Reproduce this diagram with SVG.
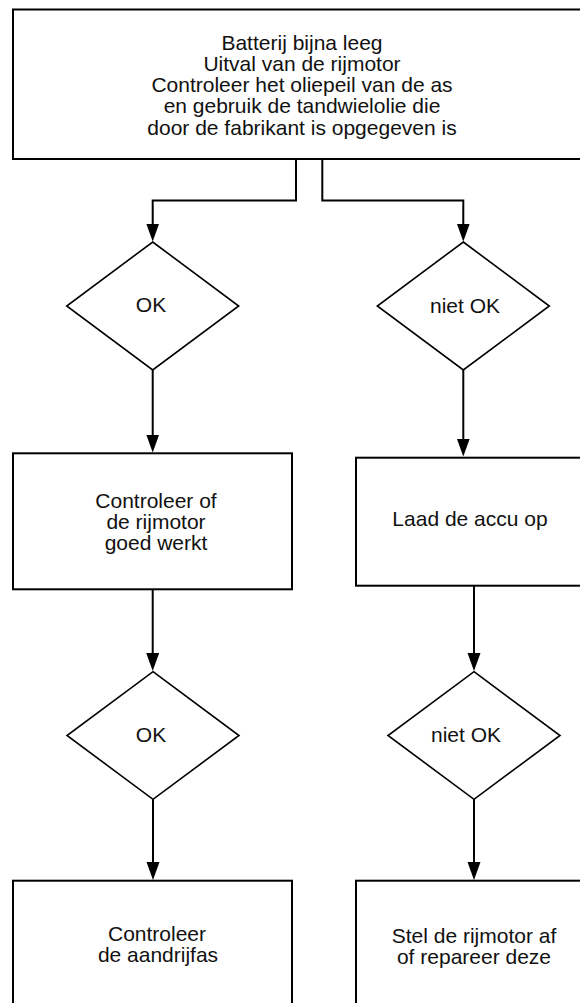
<svg xmlns="http://www.w3.org/2000/svg" width="580" height="1003" viewBox="0 0 580 1003">
<style>
.box{fill:#fff;stroke:#000;stroke-width:2}
.dia{fill:#fff;stroke:#000;stroke-width:1.6}
.con{fill:none;stroke:#000;stroke-width:2}
text{font-family:"Liberation Sans",Arial,sans-serif;font-size:21px;fill:#111;text-anchor:middle}
</style>
<defs>
<marker id="arr" markerUnits="userSpaceOnUse" markerWidth="20" markerHeight="14" refX="8" refY="6.5" orient="auto">
<path d="M0,0 L18,6.5 L0,13 z" fill="#000"/>
</marker>
</defs>
<rect width="580" height="1003" fill="#fff"/>
<g id="connectors">
<path class="con" d="M296,159 V200.5 H152.7 V231.5" marker-end="url(#arr)"/>
<path class="con" d="M322.3,159 V200.5 H463.3 V231.5" marker-end="url(#arr)"/>
<path class="con" d="M152.7,370 V442.5" marker-end="url(#arr)"/>
<path class="con" d="M463.3,370 V446.5" marker-end="url(#arr)"/>
<path class="con" d="M152.7,589 V661" marker-end="url(#arr)"/>
<path class="con" d="M474,585.5 V661" marker-end="url(#arr)"/>
<path class="con" d="M153,799 V870" marker-end="url(#arr)"/>
<path class="con" d="M474,799 V870" marker-end="url(#arr)"/>
</g>
<g id="start">
<rect class="box" x="13" y="9.5" width="580" height="149.5"/>
<text x="302" y="49.5">Batterij bijna leeg</text>
<text x="302" y="70.8">Uitval van de rijmotor</text>
<text x="302" y="92.1">Controleer het oliepeil van de as</text>
<text x="302" y="113.4">en gebruik de tandwielolie die</text>
<text x="302" y="134.7">door de fabrikant is opgegeven is</text>
</g>
<g id="ok1">
<polygon class="dia" points="152.7,242 238.7,306 152.7,370 66.7,306"/>
<text x="151" y="311.7">OK</text>
</g>
<g id="nietok1">
<polygon class="dia" points="463.3,242 549.3,306 463.3,370 377.3,306"/>
<text x="465" y="312.5">niet OK</text>
</g>
<g id="controleer-rijmotor">
<rect class="box" x="13" y="453.3" width="279" height="136"/>
<text x="156" y="507.5">Controleer of</text>
<text x="156" y="528.8">de rijmotor</text>
<text x="156" y="550.1">goed werkt</text>
</g>
<g id="laad-accu">
<rect class="box" x="356" y="457.7" width="236" height="128"/>
<text x="470" y="526">Laad de accu op</text>
</g>
<g id="ok2">
<polygon class="dia" points="153,671.7 239,735.5 153,799.3 67,735.5"/>
<text x="151" y="741.7">OK</text>
</g>
<g id="nietok2">
<polygon class="dia" points="474,671.7 560,735.5 474,799.3 388,735.5"/>
<text x="466" y="741.7">niet OK</text>
</g>
<g id="controleer-aandrijfas">
<rect class="box" x="13" y="880.7" width="279" height="135"/>
<text x="157" y="941">Controleer</text>
<text x="158" y="962.3">de aandrijfas</text>
</g>
<g id="stel-rijmotor">
<rect class="box" x="356" y="880.7" width="236" height="135"/>
<text x="474" y="943">Stel de rijmotor af</text>
<text x="474" y="964.3">of repareer deze</text>
</g>
</svg>
